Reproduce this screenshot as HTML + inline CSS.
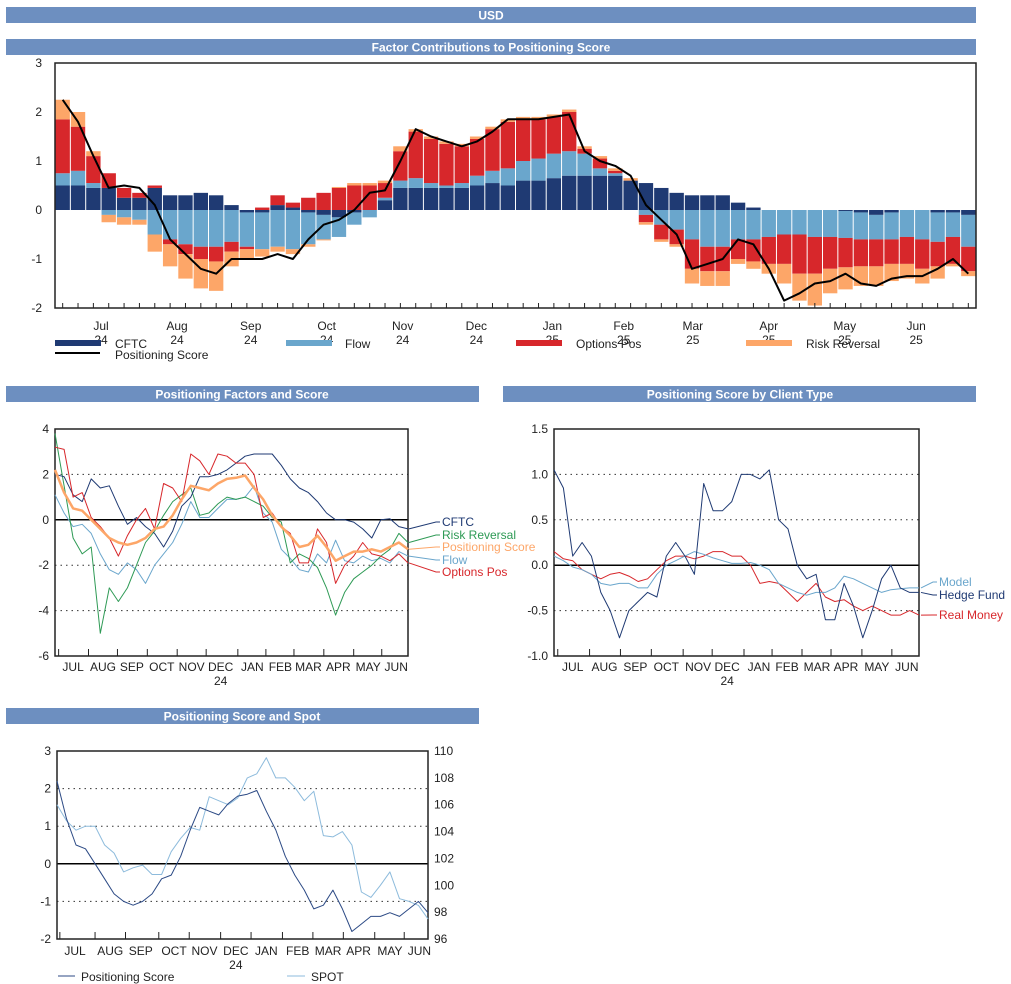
<!DOCTYPE html>
<html><head><meta charset="utf-8"><style>
body{margin:0;background:#fff;}
svg{display:block;font-family:"Liberation Sans",sans-serif;}
</style></head><body>
<svg id="s" width="1011" height="984" xmlns="http://www.w3.org/2000/svg">
<rect x="6" y="7" width="970" height="16" fill="#6d8fc0"/>
<text x="491" y="19.5" fill="#fff" font-size="12" font-weight="bold" text-anchor="middle">USD</text>
<rect x="6" y="39" width="970" height="16" fill="#6d8fc0"/>
<text x="491" y="51.5" fill="#fff" font-size="12" font-weight="bold" text-anchor="middle">Factor Contributions to Positioning Score</text>
<rect x="6" y="386" width="473" height="16" fill="#6d8fc0"/>
<text x="242" y="398.5" fill="#fff" font-size="12" font-weight="bold" text-anchor="middle">Positioning Factors and Score</text>
<rect x="503" y="386" width="473" height="16" fill="#6d8fc0"/>
<text x="740" y="398.5" fill="#fff" font-size="12" font-weight="bold" text-anchor="middle">Positioning Score by Client Type</text>
<rect x="6" y="708" width="473" height="16" fill="#6d8fc0"/>
<text x="242" y="720.5" fill="#fff" font-size="12" font-weight="bold" text-anchor="middle">Positioning Score and Spot</text>
<g id="g1"></g><g id="g2"></g><g id="g3"></g><g id="g4"></g>
</svg>
<script>
const cftc=[0.5,0.5,0.45,0.45,0.25,0.25,0.45,0.3,0.3,0.35,0.3,0.1,-0.05,-0.05,0.1,0.05,-0.05,-0.1,-0.15,-0.05,0,0.2,0.45,0.45,0.45,0.45,0.45,0.5,0.55,0.5,0.6,0.6,0.65,0.7,0.7,0.7,0.7,0.6,0.55,0.45,0.35,0.3,0.3,0.3,0.15,0.05,0,0,0,0,0,-0.02,-0.05,-0.1,-0.05,0,0,-0.05,-0.05,-0.1];
const flow=[0.25,0.3,0.1,-0.1,-0.15,-0.2,-0.5,-0.6,-0.7,-0.75,-0.75,-0.65,-0.7,-0.75,-0.75,-0.8,-0.65,-0.5,-0.4,-0.25,-0.15,0.05,0.15,0.2,0.1,0.05,0.1,0.2,0.25,0.35,0.4,0.45,0.5,0.5,0.45,0.15,0.05,0,-0.1,-0.3,-0.4,-0.6,-0.75,-0.75,-0.6,-0.6,-0.55,-0.5,-0.5,-0.55,-0.55,-0.55,-0.55,-0.5,-0.55,-0.55,-0.6,-0.6,-0.5,-0.65];
const optionsPos=[1.1,0.9,0.55,0.3,0.2,0.1,0.05,-0.1,-0.2,-0.25,-0.3,-0.2,-0.05,0.05,0.2,0.1,0.25,0.35,0.45,0.5,0.5,0.3,0.6,0.95,0.9,0.85,0.75,0.75,0.85,0.95,0.85,0.8,0.75,0.8,0.1,0.2,0.05,0,-0.15,-0.3,-0.3,-0.6,-0.5,-0.5,-0.4,-0.45,-0.55,-0.6,-0.8,-0.75,-0.65,-0.6,-0.55,-0.55,-0.5,-0.55,-0.6,-0.5,-0.55,-0.5];
const riskRev=[0.4,0.3,0.1,-0.15,-0.15,-0.1,-0.35,-0.45,-0.5,-0.6,-0.6,-0.3,-0.2,-0.15,-0.1,-0.1,-0.05,-0.02,0.02,0.05,0.05,0.05,0.1,0.05,0.05,0.05,0.05,0.05,0.05,0.05,0.05,0.05,0.05,0.05,0.05,0.05,0.05,0.05,-0.05,-0.05,-0.05,-0.3,-0.3,-0.3,-0.1,-0.15,-0.2,-0.4,-0.55,-0.65,-0.5,-0.45,-0.4,-0.4,-0.35,-0.3,-0.3,-0.25,-0.05,-0.1];
const scoreTop=[2.25,1.8,1.1,0.45,0.5,0.45,0.1,-0.6,-0.9,-1.2,-1.3,-1.0,-1.0,-1.0,-0.9,-1.0,-0.6,-0.3,-0.2,0,0.35,0.4,1.0,1.65,1.5,1.4,1.3,1.4,1.6,1.85,1.85,1.85,1.9,1.95,1.2,1.0,0.9,0.7,0.1,-0.2,-0.5,-1.2,-1.1,-1.0,-0.6,-0.7,-1.2,-1.85,-1.7,-1.5,-1.45,-1.3,-1.5,-1.55,-1.4,-1.35,-1.35,-1.2,-1.0,-1.3];
const topYTicks=[3,2,1,0,-1,-2];
const topMonths=[["Jul","24"],["Aug","24"],["Sep","24"],["Oct","24"],["Nov","24"],["Dec","24"],["Jan","25"],["Feb","25"],["Mar","25"],["Apr","25"],["May","25"],["Jun","25"]];
const monthTickPos=[2.3,5.6,8.8,12.1,15.4,18.6,21.9,25.0,28.0,31.3,34.6,37.7];
const shortMonths=["JUL","AUG","SEP","OCT","NOV","DEC","JAN","FEB","MAR","APR","MAY","JUN"];
const fScore=[2.2,1.2,0.5,0.4,0,-0.4,-0.8,-1.0,-1.1,-1.0,-0.8,-0.4,-0.3,0.2,0.9,1.5,1.4,1.3,1.6,1.8,1.85,1.95,1.4,0.9,0.2,-0.3,-0.7,-1.2,-1.1,-0.7,-1.2,-1.8,-1.6,-1.4,-1.4,-1.3,-1.4,-1.2,-1.0,-1.3];
const fCftc=[2.0,1.9,1.1,0.8,1.8,1.4,1.5,0.6,-0.2,0.1,-0.3,-0.6,-1.2,-0.5,0.6,1.0,1.9,1.9,2.0,2.2,2.5,2.8,2.9,2.9,2.9,2.4,1.8,1.4,1.2,0.8,0.3,0,0,-0.1,-0.4,-0.8,0,0.05,-0.3,-0.4];
const fRisk=[3.8,1.5,-0.8,-1.5,-1.2,-5.0,-3.0,-3.6,-3.0,-2.0,-1.0,-0.5,0.2,0.8,1.1,1.4,0.2,0.3,0.7,1.0,0.9,1.0,0.8,0.6,0.1,-0.1,-1.9,-1.5,-1.7,-2.1,-3.0,-4.2,-3.2,-2.6,-2.3,-2.0,-1.6,-1.3,-0.6,-1.0];
const fFlow=[1.1,0.3,-0.3,-0.2,-0.6,-1.5,-2.2,-2.4,-1.9,-2.2,-2.8,-2.0,-1.5,-1.0,-0.2,0.8,0.1,0.1,0.5,0.9,0.9,1.0,1.5,0.3,-0.1,-1.3,-1.7,-2.2,-2.3,-1.5,-1.9,-0.9,-1.8,-1.9,-1.6,-1.8,-1.7,-1.9,-1.4,-1.6];
const fOpt=[3.2,3.1,1.0,1.2,0.1,-0.3,-0.8,-1.6,-0.7,0,0.5,-0.4,1.6,1.4,0.8,2.9,2.6,2.0,2.9,2.8,2.5,2.5,2.0,0.1,0.3,-0.3,-0.6,-1.9,-1.9,-0.4,-1.0,-2.8,-2.0,-1.6,-1.0,-1.5,-1.6,-1.8,-1.5,-1.9];
const f2YTicks=[4,2,0,-2,-4,-6];
const hedgeFund=[1.05,0.85,0.1,0.25,0.1,-0.3,-0.5,-0.8,-0.5,-0.4,-0.3,-0.35,0.1,0.25,0.1,-0.1,0.9,0.6,0.6,0.7,1.0,1.0,0.95,1.05,0.5,0.4,0,-0.15,-0.1,-0.6,-0.6,-0.2,-0.45,-0.8,-0.5,-0.15,0,-0.25,-0.3,-0.3];
const model=[0.1,0.05,-0.02,-0.05,-0.1,-0.2,-0.22,-0.2,-0.2,-0.25,-0.25,-0.1,0,0.05,0.1,0.15,0.12,0.08,0.05,0.02,0.02,0.03,0,-0.05,-0.2,-0.25,-0.3,-0.33,-0.3,-0.3,-0.25,-0.12,-0.15,-0.2,-0.25,-0.3,-0.27,-0.26,-0.25,-0.25];
const realMoney=[0.15,0.07,0.05,-0.05,-0.1,-0.15,-0.1,-0.08,-0.12,-0.18,-0.15,-0.05,0.05,0.1,0.1,0.07,0.1,0.15,0.15,0.1,0.1,0,-0.2,-0.18,-0.2,-0.3,-0.4,-0.3,-0.2,-0.35,-0.4,-0.38,-0.45,-0.5,-0.45,-0.5,-0.55,-0.55,-0.5,-0.55];
const c3YTicks=["1.5","1.0","0.5","0.0","-0.5","-1.0"];
const spot=[106,104.8,104.1,104.4,104.4,103,102.4,101.0,101.3,101.5,100.8,100.8,102.5,103.5,104.3,104.1,106.6,106.3,106.0,106.5,108.0,108.3,109.5,108.0,108.0,107.3,106.3,107.0,103.7,103.6,104.0,103.0,99.5,99.1,100.0,101.0,99.0,98.8,98.5,97.5];
const c4YTicks=[3,2,1,0,-1,-2];
const c4RTicks=[110,108,106,104,102,100,98,96];

const NS="http://www.w3.org/2000/svg";
function mk(p,tag,a){const e=document.createElementNS(NS,tag);for(const k in a)e.setAttribute(k,a[k]);p.appendChild(e);return e;}
function lin(d0,d1,r0,r1){return v=>r0+(v-d0)*(r1-r0)/(d1-d0);}
function path(p,xs,ys,arr,col,w,name){
  const d=arr.map((v,i)=>(i?"L":"M")+xs(i).toFixed(1)+","+ys(v).toFixed(1)).join("");
  const e=mk(p,"path",{d:d,fill:"none",stroke:col,"stroke-width":w,"stroke-linejoin":"round"});
  
  
  return e;
}
function txt(p,x,y,s,a){const e=mk(p,"text",Object.assign({x:x,y:y,"font-size":12,fill:"#222"},a||{}));e.textContent=s;return e;}

// ---- chart 1
(function(){
const g=document.getElementById("g1");
const X0=55,X1=976,Y0=63,Y1=308;
const ys=lin(3,-2,Y0,Y1);
const n=cftc.length,bw=(X1-X0)/n;
const xb=i=>X0+i*bw;
const series=[[cftc,"#1f3a73","cftc"],[flow,"#6aa6cc","flow"],[optionsPos,"#d7272b","options-pos"],[riskRev,"#fda668","risk-reversal"]];
for(let i=0;i<n;i++){
  let pos=0,neg=0;
  for(const [arr,col,nm] of series){
    const v=arr[i];let a,b;
    if(v>=0){a=pos;b=pos+v;pos=b;}else{a=neg;b=neg+v;neg=b;}
    const r=mk(g,"rect",{x:xb(i)+0.5,width:bw-1,y:Math.min(ys(a),ys(b)),height:Math.abs(ys(a)-ys(b)),fill:col});
    
    
  }
}
path(g,i=>xb(i)+bw/2,ys,scoreTop,"#000",2,"positioning-score-line");
const box=mk(g,"rect",{x:X0,y:Y0,width:X1-X0,height:Y1-Y0,fill:"none",stroke:"#222","stroke-width":1.5});


topYTicks.forEach(v=>{const t=txt(g,42,ys(v)+4,String(v),{"text-anchor":"end"});
 
 });
for(let i=0;i<n;i++){mk(g,"line",{x1:xb(i)+bw/2,x2:xb(i)+bw/2,y1:Y1-5,y2:Y1,stroke:"#222"});}
const xm=lin(0,40,X0,X1);
topMonths.forEach((m,k)=>{const x=xm(monthTickPos[k]-0.3);
 const t=txt(g,x,330,m[0],{"text-anchor":"middle"});
 
 
 const t2=txt(g,x,344,m[1],{"text-anchor":"middle"});
 
 });
const leg=[["CFTC",55,115,"#1f3a73"],["Flow",286,345,"#6aa6cc"],["Options Pos",516,576,"#d7272b"],["Risk Reversal",746,806,"#fda668"]];
leg.forEach(l=>{const r=mk(g,"rect",{x:l[1],y:340,width:46,height:6,fill:l[3]});
 
 
 const t=txt(g,l[2],348,l[0]);
 
 });
const ll=mk(g,"line",{x1:55,x2:100,y1:353,y2:353,stroke:"#000","stroke-width":2});


const lt=txt(g,115,359,"Positioning Score");


})();

function smallFrame(g,X0,X1,Y0,Y1,ys,ticks,tickLab,dotted,months,mpos,labY){
  dotted.forEach(v=>{mk(g,"line",{x1:X0,x2:X1,y1:ys(v),y2:ys(v),stroke:"#333","stroke-dasharray":"1.5,4"});});
  const z=mk(g,"line",{x1:X0,x2:X1,y1:ys(0),y2:ys(0),stroke:"#000","stroke-width":1.5});
  
  
  const b=mk(g,"rect",{x:X0,y:Y0,width:X1-X0,height:Y1-Y0,fill:"none",stroke:"#222","stroke-width":1.5});
  
  
  ticks.forEach((v,k)=>{const t=txt(g,X0-6,ys(v)+4,tickLab[k],{"text-anchor":"end"});
   
   });
  const xm=lin(0,39,X0,X1);
  months.forEach((m,k)=>{
   const xt=xm(mpos[k]-1.6);mk(g,"line",{x1:xt,x2:xt,y1:Y1-7,y2:Y1,stroke:"#222"});
   const t=txt(g,xm(mpos[k]),labY,m,{"text-anchor":"middle"});
   
   });
  const y=txt(g,xm(mpos[5]),labY+14,"24",{"text-anchor":"middle"});
  
  
  return xm;
}
function endLabel(g,x0,y0,x1,y1,s,col){
  mk(g,"path",{d:`M${x0},${y0}L${x1-4},${y1}L${x1},${y1}`,fill:"none",stroke:col});
  const t=txt(g,x1+2,y1+4,s,{fill:col});
  
  
}

// ---- chart 2
(function(){
const g=document.getElementById("g2");
const X0=55,X1=408,Y0=429,Y1=656;const ys=lin(4,-6,Y0,Y1);
const xm=smallFrame(g,X0,X1,Y0,Y1,ys,f2YTicks,f2YTicks.map(String),[2,-2,-4],shortMonths,[2,5.3,8.5,11.8,15.1,18.3,21.8,24.9,28,31.3,34.6,37.7],671);
path(g,xm,ys,fFlow,"#6aa6cc",1,"flow-line");
path(g,xm,ys,fRisk,"#2e9a55",1,"risk-reversal-line");
path(g,xm,ys,fCftc,"#1f3a73",1,"cftc-line");
path(g,xm,ys,fOpt,"#d7272b",1,"options-pos-line");
path(g,xm,ys,fScore,"#fda668",2.5,"positioning-score-line");
endLabel(g,409,ys(fCftc[39]),440,522,"CFTC","#1f3a73");
endLabel(g,409,ys(fRisk[39]),440,535,"Risk Reversal","#2e9a55");
endLabel(g,409,ys(fScore[39]),440,547,"Positioning Score","#fda668");
endLabel(g,409,ys(fFlow[39]),440,560,"Flow","#6aa6cc");
endLabel(g,409,ys(fOpt[39]),440,572,"Options Pos","#d7272b");
})();

// ---- chart 3
(function(){
const g=document.getElementById("g3");
const X0=554,X1=919,Y0=429,Y1=656;const ys=lin(1.5,-1.0,Y0,Y1);
const xm=smallFrame(g,X0,X1,Y0,Y1,ys,[1.5,1,0.5,0,-0.5,-1],c3YTicks,[1,0.5,-0.5],shortMonths,[2,5.4,8.7,12,15.4,18.5,21.9,24.9,28.1,31.2,34.5,37.7],671);
path(g,xm,ys,realMoney,"#d7272b",1,"real-money-line");
path(g,xm,ys,model,"#6aa6cc",1,"model-line");
path(g,xm,ys,hedgeFund,"#1f3a73",1,"hedge-fund-line");
endLabel(g,921,ys(model[39]),937,582,"Model","#6aa6cc");
endLabel(g,921,ys(hedgeFund[39]),937,595,"Hedge Fund","#1f3a73");
endLabel(g,921,ys(realMoney[39]),937,615,"Real Money","#d7272b");
})();

// ---- chart 4
(function(){
const g=document.getElementById("g4");
const X0=57,X1=428,Y0=751,Y1=939;const ys=lin(3,-2,Y0,Y1);const yr=lin(110,96,Y0,Y1);
const xm=smallFrame(g,X0,X1,Y0,Y1,ys,c4YTicks,c4YTicks.map(String),[2,1,-1],shortMonths,[1.9,5.6,8.8,12.3,15.5,18.8,22,25.3,28.5,31.7,35,38.1],955);
c4RTicks.forEach(v=>{const t=txt(g,434,yr(v)+4,String(v));
 
 });
path(g,xm,yr,spot,"#8dbbdc",1,"spot-line");
path(g,xm,ys,fScore,"#2c4a85",1,"positioning-score-line");
const a=mk(g,"line",{x1:58,x2:75,y1:976,y2:976,stroke:"#2c4a85"});


const t=txt(g,81,981,"Positioning Score");


const b=mk(g,"line",{x1:287,x2:305,y1:976,y2:976,stroke:"#8dbbdc"});


const t2=txt(g,311,981,"SPOT");


})();
</script>
</body></html>
